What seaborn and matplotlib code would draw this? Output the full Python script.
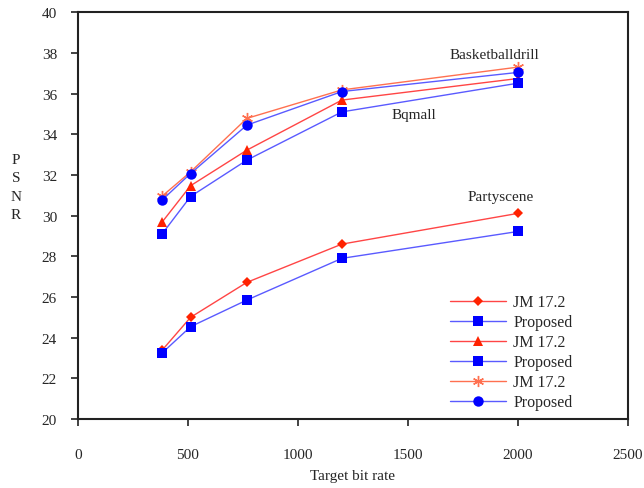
import matplotlib
matplotlib.use("Agg")
import matplotlib.pyplot as plt
import numpy as np
import pandas as pd
import seaborn as sns

BIT_RATES = [384, 512, 768, 1200, 2000]

PARTY_JM = [23.40, 25.00, 26.72, 28.60, 30.11]
PARTY_PROP = [23.26, 24.54, 25.85, 27.90, 29.22]
BQMALL_JM = [29.70, 31.47, 33.22, 35.68, 36.74]
BQMALL_PROP = [29.12, 30.94, 32.73, 35.10, 36.51]
BASKET_JM = [30.97, 32.15, 34.78, 36.18, 37.30]
BASKET_PROP = [30.78, 32.07, 34.45, 36.10, 37.04]

X_TICKS = [0, 500, 1000, 1500, 2000, 2500]
Y_TICKS = [20, 22, 24, 26, 28, 30, 32, 34, 36, 38, 40]

RED_LINE = "#FF4545"
RED_MARK = "#FF2200"
ORANGE_LINE = "#FF7050"
BLUE_LINE = "#5A5AFF"
BLUE_MARK = "#0000FF"

sns.set_style("white")
plt.rcParams["font.family"] = ["Liberation Serif", "DejaVu Serif"]
plt.rcParams["font.size"] = 11

series = [
    ("JM 17.2", PARTY_JM, RED_LINE, RED_MARK, "D", 5.5),
    ("Proposed", PARTY_PROP, BLUE_LINE, BLUE_MARK, "s", 7.5),
    ("JM 17.2", BQMALL_JM, RED_LINE, RED_MARK, "^", 7.5),
    ("Proposed", BQMALL_PROP, BLUE_LINE, BLUE_MARK, "s", 7),
    ("JM 17.2", BASKET_JM, ORANGE_LINE, ORANGE_LINE, (6, 2, 0), 8),
    ("Proposed", BASKET_PROP, BLUE_LINE, BLUE_MARK, "o", 7.5),
]

fig = plt.figure(figsize=(6.44, 4.89), dpi=100)
ax = fig.add_axes([0.121, 0.141, 0.854, 0.832])

for label, values, lc, mc, marker, ms in series:
    df = pd.DataFrame({"rate": BIT_RATES, "psnr": values})
    is_star = isinstance(marker, tuple)
    sns.lineplot(
        data=df,
        x="rate",
        y="psnr",
        ax=ax,
        color=lc,
        linewidth=1.0,
        marker=marker,
        markersize=ms,
        markerfacecolor=mc,
        markeredgecolor=mc,
        markeredgewidth=1.0 if is_star else 0,
        label=label,
    )

ax.set_xlim(0, 2500)
ax.set_ylim(20, 40)
ax.set_xticks(X_TICKS)
ax.set_yticks(Y_TICKS)
ax.tick_params(axis="both", direction="out", length=5, width=1.2, color="#222222",
               labelsize=11, bottom=True, left=True)
ax.tick_params(axis="x", pad=15.5)
ax.tick_params(axis="y", pad=10)
ax.set_xlabel("Target bit rate", fontsize=11, labelpad=6)
ax.set_ylabel("")

for side in ["left", "right", "top", "bottom"]:
    ax.spines[side].set_visible(True)
    ax.spines[side].set_color("#222222")
    ax.spines[side].set_linewidth(1.5)

fig.text(0.025, 0.616, "P\nS\nN\nR", ha="center", va="center", fontsize=11, linespacing=1.55)

ax.text(1895, 37.94, "Basketballdrill", ha="center", va="center", fontsize=11)
ax.text(1527, 34.99, "Bqmall", ha="center", va="center", fontsize=11)
ax.text(1920, 30.96, "Partyscene", ha="center", va="center", fontsize=11)

ax.legend(
    loc="upper left",
    bbox_to_anchor=(0.665, 0.322),
    frameon=False,
    handlelength=3.5,
    handletextpad=0.45,
    labelspacing=0.25,
    fontsize=11.5,
    borderaxespad=0,
)

fig.savefig("out.png", dpi=100)
